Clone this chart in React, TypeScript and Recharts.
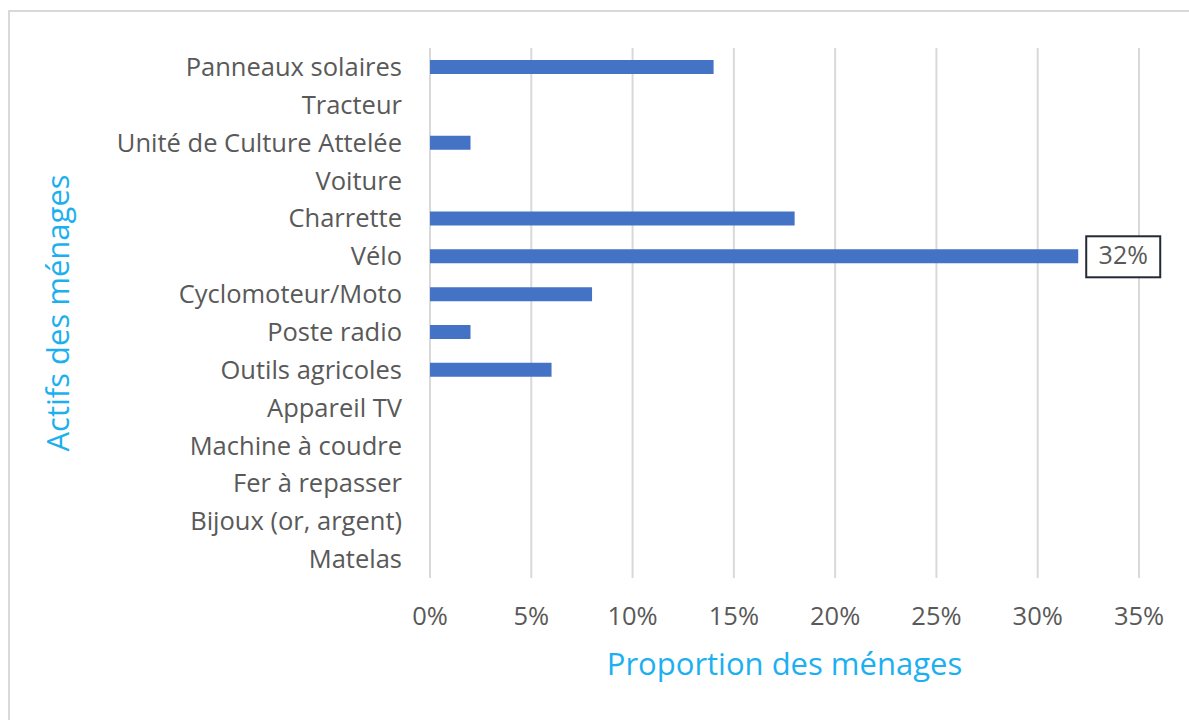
import React from "react";
import { BarChart, Bar, XAxis, YAxis, CartesianGrid, LabelList } from "recharts";

const categories = [
  "Panneaux solaires",
  "Tracteur",
  "Unité de Culture Attelée",
  "Voiture",
  "Charrette",
  "Vélo",
  "Cyclomoteur/Moto",
  "Poste radio",
  "Outils agricoles",
  "Appareil TV",
  "Machine à coudre",
  "Fer à repasser",
  "Bijoux (or, argent)",
  "Matelas",
];
const proportions = [14, 0, 2, 0, 18, 32, 8, 2, 6, 0, 0, 0, 0, 0];
const labelledCategories = ["Vélo"];
const xTicks = [0, 5, 10, 15, 20, 25, 30, 35];

const data = categories.map((name, i) => ({
  name,
  value: proportions[i],
  label: labelledCategories.includes(name) ? `${proportions[i]}%` : "",
}));

const FONT = "'Open Sans', sans-serif";
const TEXT = "#595959";
const TITLE = "#1cb0f0";

function BoxLabel(props: any) {
  const { x, y, width, height, value } = props;
  if (!value) return null;
  const bx = x + width + 8;
  const cy = y + height / 2;
  return (
    <g>
      <rect x={bx} y={cy - 20} width={74} height={41} fill="#fff" stroke="#222a36" strokeWidth={2} />
      <text x={bx + 37} y={cy + 1} textAnchor="middle" dominantBaseline="middle"
        fontFamily={FONT} fontSize={25} fill={TEXT}>
        {value}
      </text>
    </g>
  );
}

export default function App() {
  return (
    <div
      style={{
        position: "absolute", left: 8, top: 10, width: 1181, height: 710,
        borderTop: "2px solid #d9d9d9", borderLeft: "2px solid #d9d9d9",
        boxSizing: "border-box", background: "#fff", overflow: "hidden",
      }}
    >
      <BarChart
        width={1179}
        height={708}
        data={data}
        layout="vertical"
        margin={{ top: 36, right: 50, left: 20, bottom: 27 }}
      >
        <CartesianGrid horizontal={false} stroke="#d9d9d9" strokeWidth={2} />
        <XAxis
          type="number"
          domain={[0, 35]}
          ticks={xTicks}
          tickFormatter={(v) => `${v}%`}
          axisLine={false}
          tickLine={false}
          tickSize={0}
          tickMargin={29}
          height={115}
          tick={{ fill: TEXT, fontSize: 25.5, fontFamily: FONT }}
          label={{
            value: "Proportion des ménages",
            position: "insideBottom",
            offset: 18,
            style: { fill: TITLE, fontSize: 31, fontFamily: FONT },
          }}
        />
        <YAxis
          type="category"
          dataKey="name"
          width={400}
          axisLine={false}
          tickLine={false}
          tickSize={0}
          tickMargin={28}
          interval={0}
          tick={{ fill: TEXT, fontSize: 25.5, fontFamily: FONT }}
          label={{
            value: "Actifs des ménages",
            angle: -90,
            position: "insideLeft",
            offset: 28,
            style: { fill: TITLE, fontSize: 31, fontFamily: FONT, textAnchor: "middle" },
          }}
        />
        <Bar dataKey="value" fill="#4472c4" barSize={14} isAnimationActive={false}>
          <LabelList dataKey="label" content={<BoxLabel />} />
        </Bar>
      </BarChart>
    </div>
  );
}
